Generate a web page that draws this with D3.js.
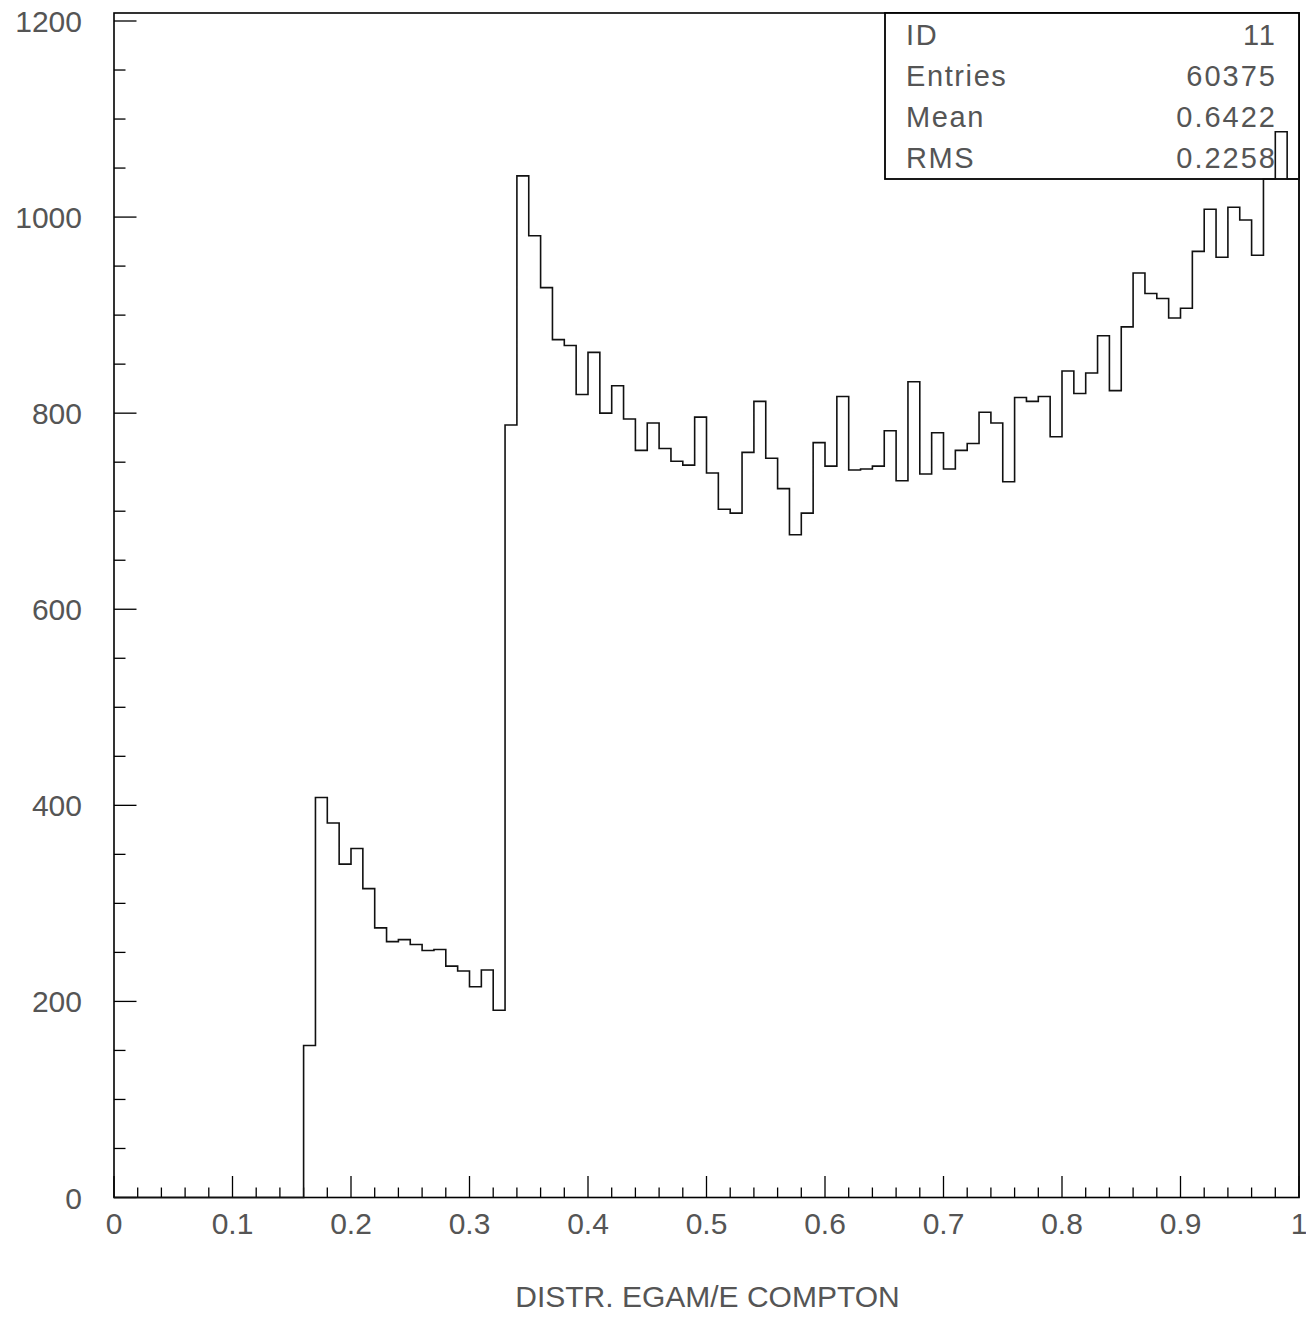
<!DOCTYPE html>
<html>
<head>
<meta charset="utf-8">
<script src="https://cdn.jsdelivr.net/npm/d3@7/dist/d3.min.js"></script>
<style>
  html, body { margin: 0; padding: 0; background: #fff; }
  svg { display: block; }
  text { font-family: "Liberation Sans", Arial, sans-serif; fill: #555; }
</style>
</head>
<body>
<svg id="chart" width="1306" height="1318"></svg>
<script>
// ---- data ----
const binStart = 0.0;
const binWidth = 0.01;
const counts = [
  0,0,0,0,0,0,0,0,0,0,
  0,0,0,0,0,0,155,408,382,340,
  356,315,275,261,263,258,252,253,236,231,
  215,232,191,788,1042,981,928,875,869,819,
  862,800,828,794,762,790,764,751,747,796,
  739,702,698,760,812,754,723,676,698,770,
  746,817,742,743,746,782,731,832,738,780,
  743,762,769,801,790,730,816,812,817,776,
  843,820,841,879,823,888,943,922,917,897,
  907,965,1008,959,1010,997,961,1039,1087,1039
];
const xTicks = [0,0.1,0.2,0.3,0.4,0.5,0.6,0.7,0.8,0.9,1];
const xTickLabels = ["0","0.1","0.2","0.3","0.4","0.5","0.6","0.7","0.8","0.9","1"];
const yTicks = [0,200,400,600,800,1000,1200];
const yTickLabels = ["0","200","400","600","800","1000","1200"];
const statNames = ["ID","Entries","Mean","RMS"];
const statValues = ["11","60375","0.6422","0.2258"];
const xTitle = "DISTR. EGAM/E COMPTON";

// ---- layout ----
const pL = 114, pR = 1299, pT = 13, pB = 1197.5;
const svg = d3.select("#chart");
const x = d3.scaleLinear().domain([0, 1]).range([pL, pR]);
const y = d3.scaleLinear().domain([0, 1200]).range([pB, 21]);

// frame
svg.append("rect")
  .attr("x", pL).attr("y", pT)
  .attr("width", pR - pL).attr("height", pB - pT)
  .attr("fill", "none").attr("stroke", "#000").attr("stroke-width", 1.6);

// y ticks (inward, on left axis)
const yMinor = d3.range(0, 1201, 50);
svg.append("g").selectAll("line").data(yMinor).join("line")
  .attr("x1", pL).attr("x2", d => pL + (d % 200 === 0 ? 22.5 : 11.5))
  .attr("y1", d => y(d)).attr("y2", d => y(d))
  .attr("stroke", "#000").attr("stroke-width", 1.3);

// x ticks (upward)
const xMinor = d3.range(0, 51).map(i => i * 0.02);
svg.append("g").selectAll("line").data(xMinor).join("line")
  .attr("x1", d => x(d)).attr("x2", d => x(d))
  .attr("y1", pB).attr("y2", (d, i) => pB - (i % 5 === 0 ? 21.5 : 10))
  .attr("stroke", "#000").attr("stroke-width", 1.3);

// y labels
svg.append("g").selectAll("text").data(yTicks).join("text")
  .attr("x", 82).attr("y", d => y(d) + 11)
  .attr("text-anchor", "end").attr("font-size", 30)
  .text((d, i) => yTickLabels[i]);

// x labels
svg.append("g").selectAll("text").data(xTicks).join("text")
  .attr("x", d => x(d)).attr("y", 1234)
  .attr("text-anchor", "middle").attr("font-size", 30)
  .text((d, i) => xTickLabels[i]);

// x title
svg.append("text")
  .attr("x", (pL + pR) / 2 + 1).attr("y", 1307)
  .attr("text-anchor", "middle").attr("font-size", 30)
  .text(xTitle);

// stats box
const boxL = 885, boxB = 179;
svg.append("rect")
  .attr("x", boxL).attr("y", pT)
  .attr("width", pR - boxL).attr("height", boxB - pT)
  .attr("fill", "#fff").attr("stroke", "#000").attr("stroke-width", 1.8);
const statG = svg.append("g");
statNames.forEach((n, i) => {
  const by = 44.5 + i * 41.3;
  statG.append("text").attr("x", 906).attr("y", by)
    .attr("font-size", 29).attr("letter-spacing", 1.6).text(n);
  statG.append("text").attr("x", 1277).attr("y", by)
    .attr("text-anchor", "end").attr("font-size", 29).attr("letter-spacing", 2)
    .text(statValues[i]);
});

// histogram step line
const pts = [[binStart, 0]];
counts.forEach((c, i) => {
  const x0 = binStart + i * binWidth;
  pts.push([x0, c]);
  pts.push([x0 + binWidth, c]);
});
pts.push([binStart + counts.length * binWidth, 0]);
const line = d3.line().x(d => x(d[0])).y(d => y(d[1]));
svg.append("path")
  .attr("d", line(pts))
  .attr("fill", "none").attr("stroke", "#111").attr("stroke-width", 1.6);
</script>
</body>
</html>
